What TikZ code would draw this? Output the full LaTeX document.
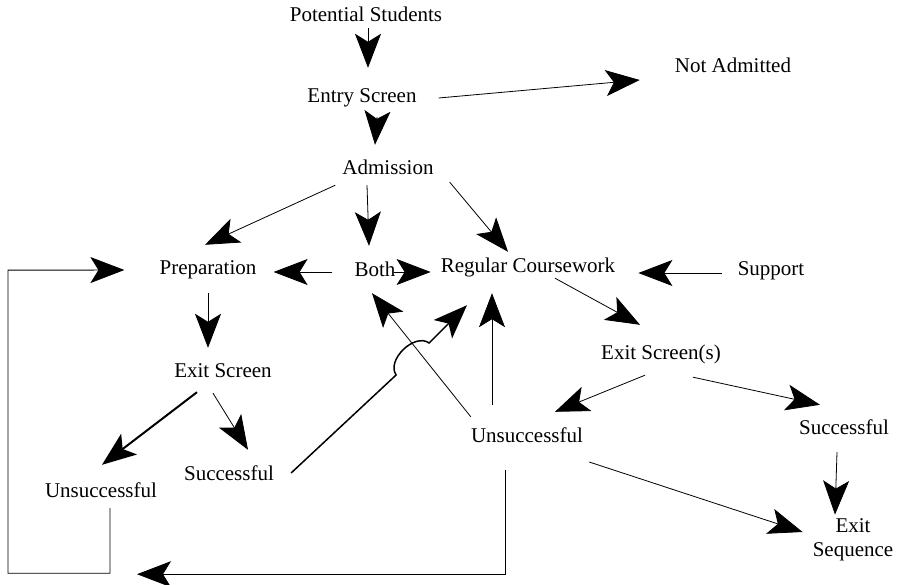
\documentclass[tikz,border=0pt]{standalone}
\usepackage{fontspec}
\setmainfont{Liberation Serif}
\usetikzlibrary{arrows.meta}

\begin{document}
\begin{tikzpicture}[x=1pt, y=-1pt,
                        box/.style={inner sep=0pt, text height=14pt, text depth=4pt, font=\fontsize{21}{25}\selectfont},
                        arr/.style={line width=0.8pt, -{Stealth[length=34pt, width=26pt, inset=8pt]}},
                        heavy/.style={line width=2pt}]
                        \useasboundingbox (0,0) rectangle (898,585);

                        \node[box] (ps)   at (366,17)  {Potential Students};
                        \node[box] (es)   at (362,98)  {Entry Screen};
                        \node[box] (na)   at (733,68)  {Not Admitted};
                        \node[box] (adm)  at (388,170) {Admission};
                        \node[box] (prep) at (208,270) {Preparation};
                        \node[box] (both) at (375,272) {Both};
                        \node[box] (reg)  at (528,268) {Regular Coursework};
                        \node[box] (sup)  at (771,271) {Support};
                        \node[box] (exs)  at (223,373) {Exit Screen};
                        \node[box] (exss) at (661,355) {Exit Screen(s)};
                        \node[box] (unl)  at (101,492) {Unsuccessful};
                        \node[box] (sucl) at (229,476) {Successful};
                        \node[box] (unm)  at (527,438) {Unsuccessful};
                        \node[box] (sucr) at (844,430) {Successful};
                        \node[inner sep=0pt, align=center, font=\fontsize{21}{24}\selectfont] (exq) at (853,540) {Exit\\Sequence};

                        \draw[arr] ([shift={(2,2)}]ps.south) -- ([shift={(6,-21)}]es.north);
                        \draw[arr] ([shift={(22,0)}]es.east) -- ([shift={(-35,12)}]na.west);
                        \draw[arr] ([shift={(15,10)}]es.south) -- ([shift={(-13,-16)}]adm.north);
                        \draw[arr] ([shift={(-7,6)}]adm.south west) -- ([shift={(-3,-16)}]prep.north);
                        \draw[arr] ([shift={(-21,6)}]adm.south) -- ([shift={(-6,-17)}]both.north);
                        \draw[arr] ([shift={(16,3)}]adm.south east) -- ([shift={(-20,-7)}]reg.north);
                        \draw[arr] ([shift={(-22,0)}]both.west) -- ([shift={(17,2)}]prep.east);
                        \draw[arr] ([shift={(-2,0)}]both.east) -- ([shift={(-10,4)}]reg.west);
                        \draw[arr] ([shift={(-16,2)}]sup.west) -- ([shift={(23,5)}]reg.east);
                        \draw[arr] ([shift={(27,1)}]reg.south) -- ([shift={(-21,-21)}]exss.north);
                        \draw[arr] ([shift={(0,14)}]prep.south) -- ([shift={(-15,-16)}]exs.north);
                        \draw[arr, heavy] ([shift={(-26,10)}]exs.south) -- ([shift={(1,-18)}]unl.north);
                        \draw[arr] ([shift={(-10,11)}]exs.south) -- ([shift={(19,-17)}]sucl.north);
                        \draw[arr, line width=1.5pt] ([shift={(17,-3)}]sucl.east) -- ++(105,-98)
                            to[bend left=80] ++(33,-32) -- ([shift={(-61,28)}]reg.south);
                        \draw[arr] ([shift={(0,-12)}]unm.north west) -- ([shift={(-3,12)}]both.south);
                        \draw[arr] ([shift={(-35,-24)}]unm.north) -- ([shift={(-36,16)}]reg.south);
                        \draw[arr] ([shift={(-16,11)}]exss.south) -- ([shift={(28,-17)}]unm.north);
                        \draw[arr] ([shift={(32,13)}]exss.south) -- ([shift={(-24,-16)}]sucr.north);
                        \draw[arr] ([shift={(-7,13)}]sucr.south) -- ([shift={(-18,-4)}]exq.north);
                        \draw[arr] ([shift={(6,24)}]unm.east) -- ([shift={(-10,-8)}]exq.west);

                        \draw[arr, line width=0.9pt] ([shift={(9,7)}]unl.south) -- ++(0,65) -| ++(-102,-303)
                            -- ([xshift=-35pt]prep.west);
                        \draw[arr, line width=0.9pt] ([shift={(-22,23)}]unm.south) |- ([shift={(36,73)}]unl.south);
                    \end{tikzpicture}
\end{document}
